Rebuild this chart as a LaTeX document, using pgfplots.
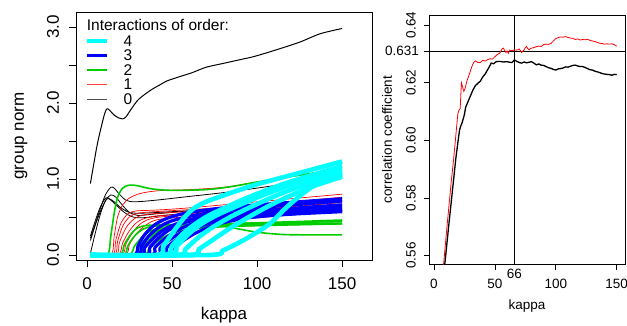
\documentclass[border=0pt]{standalone}
\usepackage{pgfplots}
\pgfplotsset{compat=1.18}
\usepackage{fontspec}
\setmainfont{Liberation Sans}
\definecolor{rgreen}{RGB}{0,205,0}
\definecolor{rcyan}{RGB}{0,255,255}
\definecolor{rblue}{RGB}{0,0,255}
\definecolor{rred}{RGB}{255,0,0}
\pgfplotsset{
  kz/.style={black, line width=0.8pt, smooth, forget plot},
  ko/.style={rred, line width=0.7pt, smooth, forget plot},
  kt/.style={rgreen, line width=1.6pt, smooth, forget plot},
  kh/.style={rblue, line width=3.2pt, smooth, forget plot},
  kf/.style={rcyan, line width=4.6pt, smooth, forget plot},
}
\begin{document}
\begin{tikzpicture}[x=1pt,y=1pt]
\useasboundingbox (0,0) rectangle (627,325);
% ---------------- left panel ----------------
\begin{axis}[
  at={(76pt,65pt)}, anchor=south west, scale only axis,
  width=296pt, height=248pt,
  xmin=-6.47, xmax=167.6, ymin=-0.066, ymax=3.197,
  xtick={0,50,100,150}, xticklabels={0,50,100,150},
  ytick={0,0.5,1,1.5,2,2.5,3},
  yticklabels={0.0,,1.0,,2.0,,3.0},
  xtick pos=lower, ytick pos=left,
  tick align=outside, major tick length=7pt,
  tick style={black, line width=0.8pt},
  axis line style={black, line width=0.8pt},
  ticklabel style={font=\fontsize{17}{20}\selectfont, inner sep=0pt},
  xticklabel style={anchor=center, yshift=-17pt},
  yticklabel style={rotate=90, anchor=center},
  yticklabel shift=16pt,
  xlabel={kappa}, ylabel={group norm},
  label style={font=\fontsize{17}{20}\selectfont},
  xlabel style={at={(axis description cs:0.5,-0.2218)}, anchor=center},
  ylabel style={at={(axis description cs:-0.1858,0.5)}, anchor=center},
  legend style={at={(axis description cs:0.0304,0.9032)}, anchor=north west,
    draw=none, fill=none, inner sep=0pt, outer sep=0pt,
    font=\fontsize{15.5}{18}\selectfont, row sep=4.5pt, column sep=14pt,
    nodes={inner sep=0pt, text height=10pt, text depth=0pt, anchor=west}},
  legend image code/.code={\draw[#1] (0pt,0pt) -- (20pt,0pt);},
  legend cell align=left,
]
\addlegendimage{rcyan, line width=4.6pt}\addlegendentry{4}
\addlegendimage{rblue, line width=3.2pt}\addlegendentry{3}
\addlegendimage{rgreen, line width=1.6pt}\addlegendentry{2}
\addlegendimage{rred!75, line width=0.8pt}\addlegendentry{1}
\addlegendimage{black!70, line width=0.8pt}\addlegendentry{0}
% order 0
\addplot[kz, line width=1pt] coordinates {(2,0.94) (4,1.2) (6,1.45) (8,1.65) (10,1.83) (11.5,1.92) (13,1.91) (16,1.84) (19,1.80) (21,1.79) (23,1.82) (26,1.92) (30,2.04) (35,2.13) (39,2.19) (43,2.24) (47,2.29) (55,2.35) (62,2.40) (70,2.47) (80,2.52) (90,2.57) (98,2.61) (110,2.69) (125,2.80) (137,2.91) (150,2.98)};
\addplot[kz] coordinates {(2,0.22) (5,0.42) (8,0.62) (11,0.80) (14,0.89) (16,0.88) (19,0.80) (23,0.72) (28,0.70) (40,0.72) (60,0.77) (80,0.82) (100,0.88) (125,0.96) (150,1.03)};
\addplot[kz] coordinates {(2,0.19) (5,0.40) (8,0.58) (11,0.72) (14,0.79) (17,0.76) (21,0.65) (25,0.56) (30,0.52) (40,0.54) (60,0.58) (100,0.65) (150,0.74)};
\addplot[kz] coordinates {(2,0.25) (5,0.46) (8,0.64) (11,0.75) (13,0.74) (17,0.66) (22,0.56) (27,0.50) (33,0.49) (45,0.52) (70,0.57) (100,0.62) (150,0.71)};
\addplot[kz] coordinates {(2,0.02) (5,0.30) (8,0.55) (11,0.72) (13,0.74) (16,0.70) (20,0.62) (25,0.56) (32,0.55) (50,0.57) (100,0.63) (150,0.72)};
% order 1
\addplot[ko] coordinates {(2,0) (14,0) (16,0.25) (18,0.50) (21,0.66) (25,0.75) (30,0.80) (36,0.83) (45,0.85) (60,0.86) (80,0.89) (100,0.96) (125,1.05) (150,1.13)};
\addplot[ko] coordinates {(2,0) (15,0) (17,0.2) (20,0.42) (24,0.54) (29,0.58) (40,0.59) (60,0.62) (100,0.70) (150,0.80)};
\addplot[ko] coordinates {(2,0) (16,0) (18,0.18) (21,0.38) (25,0.50) (30,0.55) (40,0.57) (70,0.61) (100,0.66) (150,0.76)};
\addplot[ko] coordinates {(2,0) (17,0) (19,0.16) (23,0.36) (28,0.48) (34,0.53) (50,0.56) (100,0.62) (150,0.72)};
\addplot[ko] coordinates {(2,0) (18,0) (21,0.16) (25,0.32) (30,0.44) (37,0.50) (50,0.53) (100,0.60) (150,0.69)};
\addplot[ko] coordinates {(2,0) (20,0) (23,0.15) (27,0.30) (32,0.42) (40,0.49) (60,0.53) (100,0.58) (150,0.66)};
\addplot[ko] coordinates {(2,0) (22,0) (25,0.14) (29,0.28) (35,0.40) (43,0.47) (70,0.52) (150,0.63)};
% order 2
\addplot[kt] coordinates {(2,0) (12,0) (14,0.25) (16,0.55) (18,0.76) (21,0.88) (25,0.92) (30,0.91) (38,0.87) (50,0.85) (70,0.86) (85,0.90) (100,0.96) (125,1.05) (150,1.13)};
\addplot[kt] coordinates {(2,0) (19,0) (22,0.14) (26,0.28) (30,0.36) (36,0.39) (50,0.40) (80,0.41) (110,0.43) (150,0.46)};
\addplot[kt] coordinates {(2,0) (21,0) (24,0.12) (28,0.25) (33,0.34) (40,0.38) (60,0.40) (100,0.42) (150,0.44)};
\addplot[kt] coordinates {(2,0) (24,0) (28,0.12) (33,0.25) (39,0.33) (48,0.37) (70,0.39) (110,0.41) (150,0.42)};
\addplot[kt] coordinates {(2,0) (27,0) (31,0.12) (36,0.24) (43,0.33) (55,0.37) (80,0.38) (120,0.40) (150,0.41)};
\addplot[kt] coordinates {(2,0) (29,0) (34,0.13) (40,0.28) (48,0.38) (58,0.43) (70,0.42) (85,0.36) (100,0.30) (115,0.27) (130,0.265) (150,0.265)};
\addplot[kt] coordinates {(2,0) (32,0) (37,0.10) (44,0.22) (52,0.30) (65,0.35) (90,0.38) (150,0.41)};
% order 3
\addplot[kh] coordinates {(2,0) (27,0) (30,0.12) (34,0.27) (40,0.40) (48,0.49) (60,0.56) (80,0.62) (100,0.66) (125,0.70) (150,0.74)};
\addplot[kh] coordinates {(2,0) (29,0) (32,0.11) (36,0.24) (42,0.36) (50,0.45) (65,0.53) (85,0.59) (110,0.64) (150,0.71)};
\addplot[kh] coordinates {(2,0) (31,0) (34,0.10) (39,0.22) (45,0.33) (55,0.43) (70,0.51) (100,0.58) (150,0.66)};
\addplot[kh] coordinates {(2,0) (34,0) (37,0.10) (42,0.22) (49,0.34) (58,0.43) (75,0.51) (100,0.56) (150,0.63)};
\addplot[kh] coordinates {(2,0) (37,0) (40,0.10) (45,0.20) (52,0.31) (62,0.41) (80,0.49) (110,0.55) (150,0.60)};
\addplot[kh] coordinates {(2,0) (40,0) (43,0.09) (48,0.19) (55,0.29) (66,0.39) (85,0.47) (115,0.53) (150,0.57)};
\addplot[kh] coordinates {(2,0) (43,0) (47,0.10) (53,0.21) (61,0.32) (72,0.42) (90,0.50) (120,0.55) (150,0.58)};
\addplot[kh] coordinates {(2,0) (46,0) (50,0.08) (56,0.18) (64,0.29) (76,0.40) (95,0.49) (125,0.55) (150,0.59)};
% order 4
\addplot[kf] coordinates {(2,0) (41,0) (45,0.12) (50,0.28) (56,0.46) (62,0.60) (70,0.70) (85,0.82) (100,0.93) (125,1.08) (150,1.23)};
\addplot[kf] coordinates {(2,0) (45,0) (50,0.12) (56,0.27) (62,0.38) (70,0.50) (80,0.61) (95,0.76) (115,0.93) (135,1.07) (150,1.17)};
\addplot[kf] coordinates {(2,0) (48,0) (53,0.12) (59,0.26) (66,0.39) (76,0.52) (90,0.66) (105,0.80) (125,0.96) (150,1.11)};
\addplot[kf] coordinates {(2,0) (53,0) (58,0.08) (66,0.24) (75,0.38) (86,0.52) (100,0.67) (120,0.86) (150,1.08)};
\addplot[kf] coordinates {(2,0) (60,0) (66,0.08) (74,0.20) (84,0.35) (96,0.51) (110,0.68) (130,0.88) (150,1.03)};
\addplot[kf] coordinates {(2,0) (72,0) (80,0.06) (90,0.17) (100,0.30) (108,0.42) (117,0.62) (127,0.81) (137,0.96) (150,1.06)};
\node[anchor=west, inner sep=0pt, font=\fontsize{15.5}{18}\selectfont] at (axis description cs:0.0361,0.9476) {Interactions of order:};
\end{axis}
% ---------------- right panel ----------------
\begin{axis}[
  at={(429pt,60.5pt)}, anchor=south west, scale only axis,
  width=196pt, height=249.5pt,
  xmin=-4.1, xmax=156.8, ymin=0.5569, ymax=0.6435,
  xtick={0,50,100,150}, xticklabels={0,50,100,150},
  ytick={0.56,0.58,0.60,0.62,0.64},
  yticklabels={0.56,0.58,0.60,0.62,0.64},
  xtick pos=lower, ytick pos=left,
  tick align=outside, major tick length=5.5pt,
  tick style={black, line width=0.8pt},
  axis line style={black, line width=0.8pt},
  ticklabel style={font=\fontsize{13.5}{16}\selectfont, inner sep=0pt},
  xticklabel style={anchor=center, yshift=-13.5pt},
  yticklabel style={rotate=90, anchor=center},
  yticklabel shift=12.5pt,
  extra x ticks={66}, extra x tick labels={66},
  extra x tick style={major tick length=0pt, xticklabel style={yshift=4.3pt}},
  extra y ticks={0.631}, extra y tick labels={0.631},
  extra y tick style={yticklabel style={rotate=-90, anchor=east}, yticklabel shift=4.5pt},
  xlabel={kappa}, ylabel={correlation coefficient},
  label style={font=\fontsize{13.5}{16}\selectfont},
  xlabel style={at={(axis description cs:0.5,-0.1663)}, anchor=center},
  ylabel style={at={(axis description cs:-0.2143,0.5)}, anchor=center},
]
\addplot[black, line width=0.8pt, forget plot] coordinates {(-10,0.631) (170,0.631)};
\addplot[black, line width=0.8pt, forget plot] coordinates {(66,0.55) (66,0.65)};
\addplot[rred, line width=0.8pt] coordinates {(7,0.553) (8,0.5575) (10,0.567) (12,0.576) (14,0.585) (16,0.593) (18,0.602) (19.5,0.609) (20.5,0.6105) (21.5,0.611) (22.5,0.620) (23.5,0.6185) (24.5,0.617) (25.5,0.618) (27,0.6205) (29,0.623) (31,0.6255) (32.5,0.627) (34,0.6276) (36,0.627) (38,0.627) (40,0.6278) (42,0.6275) (44,0.628) (46,0.6283) (48,0.6282) (50,0.629) (52,0.6298) (54,0.6303) (56,0.6318) (57,0.632) (58,0.6312) (59,0.6305) (60,0.631) (61,0.6302) (62,0.6313) (64,0.6311) (66,0.6314) (68,0.6313) (70,0.6317) (71,0.6311) (72,0.6305) (73,0.631) (74,0.6314) (75,0.6322) (76,0.6326) (77,0.6318) (78,0.6315) (80,0.632) (82,0.6322) (84,0.6325) (86,0.6327) (88,0.6326) (90,0.6332) (92,0.6334) (94,0.6333) (96,0.6336) (98,0.6345) (100,0.6353) (102,0.6357) (104,0.6359) (106,0.6358) (108,0.636) (110,0.6357) (112,0.6355) (114,0.6354) (116,0.635) (118,0.6352) (120,0.6348) (122,0.635) (124,0.6349) (126,0.6351) (128,0.6347) (130,0.6345) (132,0.6343) (134,0.634) (136,0.6337) (138,0.6336) (140,0.6334) (142,0.6335) (144,0.6334) (146,0.6335) (148,0.6332) (150,0.6327)};
\addplot[black, line width=1.3pt] coordinates {(7.5,0.554) (9,0.5575) (12,0.570) (14,0.578) (16,0.586) (18,0.594) (20,0.6005) (21,0.6036) (22,0.605) (23,0.606) (24,0.6075) (25,0.609) (26,0.6115) (28,0.6135) (30,0.6155) (32,0.6175) (34,0.619) (36,0.6198) (38,0.6205) (40,0.622) (42,0.623) (44,0.6245) (46,0.626) (47,0.6268) (49,0.6266) (51,0.6273) (54,0.6274) (57,0.6272) (60,0.6273) (62,0.6271) (64,0.627) (66,0.6279) (68,0.6274) (70,0.627) (72,0.6268) (74,0.6272) (76,0.6269) (78,0.6271) (80,0.6273) (82,0.6268) (84,0.6262) (86,0.6265) (88,0.6261) (90,0.626) (92,0.6256) (94,0.6252) (96,0.625) (98,0.6246) (100,0.6244) (102,0.6248) (104,0.6249) (106,0.6251) (108,0.6255) (110,0.6254) (112,0.6257) (114,0.626) (116,0.6261) (118,0.6258) (120,0.6256) (122,0.6256) (124,0.6253) (126,0.6249) (128,0.6245) (130,0.6244) (132,0.624) (134,0.6238) (136,0.6235) (138,0.6232) (140,0.623) (142,0.6229) (144,0.6228) (146,0.6226) (148,0.6229) (150,0.6228)};
\end{axis}
\end{tikzpicture}
\end{document}
